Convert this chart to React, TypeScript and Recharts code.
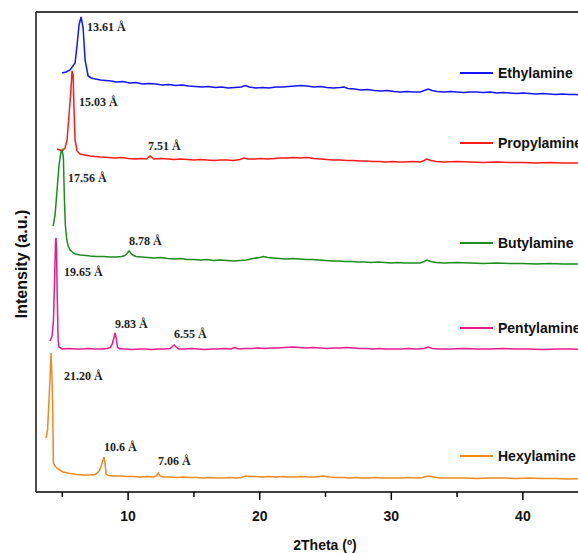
import { LineChart, Line, XAxis, YAxis } from "recharts";

// 2Theta (deg) vs intensity (a.u., traces stacked with offsets)
const ethylamine = [
  [4.98, 419], [5.29, 420], [5.59, 422], [5.97, 429], [6.12, 447], [6.27, 467], [6.43, 475], [6.58, 464],
  [6.73, 432], [6.96, 416], [7.2, 414], [7.5, 413], [7.9, 412], [8.3, 411.5], [8.7, 411], [9.1, 410],
  [9.6, 410.5], [10.1, 409], [10.6, 409.5], [11.1, 408], [11.6, 408.5], [12.1, 408], [12.6, 407], [13.1, 407.5],
  [13.6, 406.5], [14.1, 407], [14.6, 406], [15.1, 405.5], [15.6, 405], [16.1, 405.5], [16.6, 404.5], [17.1, 405],
  [17.6, 404], [18.1, 404.5], [18.6, 405], [18.9, 406.5], [19.2, 405], [19.7, 404], [20.2, 404.5], [20.7, 404],
  [21.2, 405], [21.7, 405], [22.2, 405.5], [22.7, 406], [23.1, 406.5], [23.6, 406], [24.1, 405], [24.6, 405.5],
  [25.1, 404.5], [25.6, 404], [26.1, 404.5], [26.4, 405], [26.7, 403.5], [27.2, 403], [27.7, 402], [28.2, 402.5],
  [28.7, 401.5], [29.2, 401], [29.7, 401.5], [30.2, 400.5], [30.7, 400], [31.2, 400.5], [31.7, 400], [32.2, 400],
  [32.5, 401.5], [32.8, 403], [33.1, 401.5], [33.5, 400.5], [34, 400], [34.5, 400.5], [35, 400], [35.5, 399.5],
  [36, 400], [36.5, 400], [37, 399.5], [37.5, 400], [38, 399], [38.5, 399.5], [39, 399], [39.5, 398.5],
  [40, 399], [40.5, 398.5], [41, 398], [41.5, 398.5], [42, 398], [42.5, 397.5], [43, 398], [43.5, 397.5],
  [44, 397.5], [44.5, 397], [45, 397.5], [46, 397], [47, 397],
];

const propylamine = [
  [4.6, 343], [4.83, 342], [4.98, 341], [5.21, 344], [5.36, 352], [5.51, 377], [5.63, 397], [5.74, 421],
  [5.82, 417], [5.89, 382], [5.97, 352], [6.12, 341], [6.35, 338], [6.7, 337], [7.1, 336], [7.5, 335.5],
  [7.9, 335], [8.5, 334.5], [9, 334], [9.5, 334.5], [10, 333.5], [10.5, 333], [11, 333.5], [11.4, 333],
  [11.67, 336], [11.95, 333], [12.5, 333.5], [13, 333], [13.5, 332.5], [14, 333], [14.5, 332.5], [15, 332],
  [15.5, 332.5], [16, 332], [16.5, 331.5], [17, 332], [17.5, 332], [18, 331.5], [18.5, 332.5], [18.8, 334],
  [19.1, 333], [19.6, 333], [20.1, 333.5], [20.6, 333], [21.1, 333.5], [21.6, 334], [22.1, 334], [22.6, 334.5],
  [23.1, 334], [23.6, 334.5], [24.1, 333.5], [24.6, 333], [25.1, 332.5], [25.6, 332], [26.1, 332], [26.6, 331.5],
  [27.1, 331.5], [27.6, 331], [28.1, 331], [28.6, 330.5], [29.1, 330.5], [29.6, 330], [30.1, 330.5], [30.6, 330],
  [31.1, 330], [31.6, 330.5], [32.2, 330], [32.5, 331.5], [32.7, 333], [33, 331.5], [33.4, 330.5], [34, 330],
  [35, 330.5], [36, 330], [37, 329.5], [38, 330], [39, 329.5], [40, 329.5], [41, 329], [42, 329.5],
  [43, 329], [44, 329], [45, 328.5], [46, 329], [47, 328.5],
];

const butylamine = [
  [4.3, 266], [4.45, 277], [4.6, 302], [4.75, 327], [4.9, 340], [4.98, 342], [5.08, 335], [5.16, 292],
  [5.23, 267], [5.34, 252], [5.45, 246], [5.59, 242], [5.8, 239.5], [5.97, 238], [6.35, 237], [6.8, 236.5],
  [7.1, 236], [7.6, 235.5], [8.1, 235.5], [8.6, 235], [9.1, 235], [9.5, 235.5], [9.75, 236.5], [9.92, 238.5],
  [10.07, 241], [10.2, 239], [10.35, 237], [10.6, 235.5], [11, 235], [11.5, 234.5], [12, 234], [12.5, 234.5],
  [13, 233.5], [13.5, 233], [14, 233.5], [14.5, 232.5], [15, 232.5], [15.5, 232], [16, 232.5], [16.5, 231.5],
  [17, 232], [17.5, 231.5], [18, 231], [18.5, 231.5], [19, 232], [19.5, 233.5], [20, 234.5], [20.3, 235.5],
  [20.6, 234.5], [21, 234], [21.5, 233.5], [22, 233], [22.5, 233.5], [23, 233], [23.5, 232.5], [24, 232.5],
  [24.5, 232], [25, 231.5], [25.5, 231], [26, 231], [26.5, 230.5], [27, 230.5], [27.5, 230], [28, 230],
  [28.5, 229.5], [29, 230], [29.5, 229.5], [30, 229], [30.5, 229.5], [31, 229], [31.5, 229], [32.2, 229],
  [32.5, 230.5], [32.7, 232], [33, 230.5], [33.4, 229.5], [34, 229], [35, 229.5], [36, 229], [37, 228.5],
  [38, 229], [39, 228.5], [40, 228.5], [41, 228], [42, 228.5], [43, 228], [44, 228], [45, 227.5],
  [46, 228], [47, 227.5],
];

const pentylamine = [
  [4.07, 151], [4.22, 156], [4.33, 172], [4.41, 212], [4.49, 252], [4.52, 254], [4.56, 242], [4.62, 192],
  [4.68, 152], [4.75, 145], [4.98, 143], [5.5, 143.5], [6, 143], [6.5, 143], [7, 143.5], [7.5, 143],
  [8, 143], [8.4, 143.5], [8.63, 144.5], [8.8, 148], [8.93, 155], [9.01, 159], [9.09, 154], [9.2, 144.5],
  [9.4, 143], [9.8, 143], [10.3, 142.5], [10.8, 143], [11.3, 143], [11.8, 142.5], [12.3, 143], [12.8, 143],
  [13.2, 143.5], [13.4, 146], [13.5, 147], [13.65, 145], [13.85, 143], [14.3, 143], [14.8, 143.5], [15.3, 143],
  [15.8, 142.5], [16.3, 143], [16.8, 143], [17.3, 143.5], [17.8, 143], [18.1, 144.5], [18.4, 143], [18.9, 143.5],
  [19.4, 143.5], [19.9, 144], [20.4, 143.5], [20.9, 144], [21.4, 144], [21.9, 144.5], [22.5, 145], [23, 144.5],
  [23.5, 144], [24, 144.5], [24.6, 144], [25.1, 143.5], [25.6, 144], [26.1, 144], [26.6, 144.5], [27.1, 144],
  [27.6, 143.5], [28.1, 143.5], [28.6, 143], [29.1, 143.5], [29.6, 143], [30.1, 143], [30.7, 143], [31.3, 143.5],
  [31.9, 143], [32.5, 143.5], [32.8, 145], [33.1, 143.5], [33.7, 143], [34.5, 143], [35.5, 143.5], [36.5, 143],
  [37.5, 143], [38.5, 143.5], [39.5, 143], [40.5, 143], [41.5, 142.5], [42.5, 143], [43.5, 143], [44.5, 142.5],
  [45.5, 143], [47, 143],
];

const hexylamine = [
  [3.76, 54], [3.88, 62], [3.98, 90], [4.07, 115], [4.14, 139], [4.2, 120], [4.27, 85], [4.32, 29],
  [4.45, 26], [4.58, 24], [4.8, 22], [5.06, 20], [5.59, 18.5], [6.1, 17.5], [6.6, 17], [7.1, 17],
  [7.5, 17.5], [7.8, 21], [7.95, 26], [8.08, 31], [8.17, 35], [8.25, 28], [8.33, 18], [8.5, 16.5],
  [8.9, 16], [9.4, 16], [9.9, 15.5], [10.4, 15.5], [10.9, 15], [11.4, 15.5], [11.9, 15], [12.15, 16],
  [12.28, 19], [12.43, 16], [12.7, 15], [13.2, 15], [13.7, 14.5], [14.2, 15], [14.7, 14.5], [15.2, 14.5],
  [15.7, 14], [16.2, 14.5], [16.7, 14], [17.2, 14], [17.7, 14.5], [18.2, 14], [18.6, 14.5], [18.9, 16],
  [19.2, 15.5], [19.7, 15.5], [20.2, 15], [20.7, 15.5], [21.2, 15], [21.7, 15.5], [22.2, 15], [22.7, 15],
  [23.2, 15.5], [23.7, 15], [24.2, 15], [24.8, 16], [25.3, 15], [25.8, 14.5], [26.3, 14.5], [26.8, 14],
  [27.3, 14.5], [27.8, 14], [28.3, 14], [28.8, 14.5], [29.3, 14], [29.8, 14], [30.3, 14], [30.8, 14],
  [31.3, 14.5], [31.9, 14], [32.4, 14.5], [32.8, 16], [33.2, 15], [33.7, 14], [34.5, 14], [35.5, 14],
  [36.5, 13.5], [37.5, 14], [38.5, 14], [39.5, 13.5], [40.5, 14], [41.5, 13.5], [42.5, 13.5], [43.5, 13],
  [44.5, 13.5], [45.5, 13], [47, 13],
];

const seriesNames = ["Ethylamine", "Propylamine", "Butylamine", "Pentylamine", "Hexylamine"];
const seriesData = [ethylamine, propylamine, butylamine, pentylamine, hexylamine];
const xTicks = [5, 10, 15, 20, 25, 30, 35, 40, 45];

const peakLabels = ["13.61 Å", "15.03 Å", "7.51 Å", "17.56 Å", "8.78 Å", "19.65 Å", "9.83 Å", "6.55 Å", "21.20 Å", "10.6 Å", "7.06 Å"];

// layout / styles
const colors = ["#1414ff", "#ff1a1a", "#1e8c1e", "#ea1a8c", "#ef8a1e"];
const legendY = [73, 143, 243, 328, 456];
const peakLabelPos = [
  [87, 31], [79, 106], [148, 150], [68, 182], [129, 245], [64, 276],
  [115, 328], [174, 338], [64, 380], [104, 451], [158, 465],
];
const sans = "'Liberation Sans', Arial, sans-serif";
const serif = "'Liberation Serif', 'Times New Roman', serif";

const toPoints = (rows: number[][]) => rows.map(([x, y]) => ({ x, y }));

const AxisTick = (props: any) => {
  const { x, y, payload } = props;
  const major = payload.value % 10 === 0;
  return (
    <g>
      <line x1={x} x2={x} y1={y} y2={y + (major ? 8 : 5)} stroke="#000" strokeWidth={1.5} />
      {major && (
        <text x={x} y={y + 29} textAnchor="middle" fontFamily={sans} fontWeight="bold" fontSize={14} fill="#111">
          {payload.value}
        </text>
      )}
    </g>
  );
};

export default function App() {
  return (
    <div style={{ position: "absolute", left: 0, top: 0, width: 578, height: 553, overflow: "hidden", background: "#fff" }}>
      <LineChart width={620} height={553} margin={{ top: 10, right: 5, bottom: 31, left: 34 }}>
        <XAxis
          dataKey="x"
          type="number"
          domain={[3, 47]}
          allowDataOverflow
          ticks={xTicks}
          height={30}
          tickSize={0}
          tickMargin={0}
          tickLine={false}
          tick={<AxisTick />}
          axisLine={{ stroke: "#000", strokeWidth: 1.6 }}
        />
        <XAxis
          xAxisId="top"
          orientation="top"
          dataKey="x"
          type="number"
          domain={[3, 47]}
          height={2}
          tick={false}
          tickLine={false}
          axisLine={{ stroke: "#000", strokeWidth: 1.4 }}
        />
        <YAxis
          type="number"
          domain={[0, 480]}
          allowDataOverflow
          width={2}
          tick={false}
          tickLine={false}
          axisLine={{ stroke: "#000", strokeWidth: 1.4 }}
        />
        {seriesData.map((rows, i) => (
          <Line
            key={seriesNames[i]}
            data={toPoints(rows)}
            dataKey="y"
            type="linear"
            stroke={colors[i]}
            strokeWidth={1.5}
            dot={false}
            isAnimationActive={false}
          />
        ))}
      </LineChart>
      <svg width={578} height={553} style={{ position: "absolute", left: 0, top: 0, pointerEvents: "none" }}>
        {seriesNames.map((name, i) => (
          <g key={name}>
            <line x1={460} x2={493} y1={legendY[i]} y2={legendY[i]} stroke={colors[i]} strokeWidth={2} />
            <text x={498} y={legendY[i] + 5} fontFamily={sans} fontWeight="bold" fontSize={14} fill="#111">
              {name}
            </text>
          </g>
        ))}
        {peakLabels.map((t, i) => (
          <text key={t} x={peakLabelPos[i][0]} y={peakLabelPos[i][1]} fontFamily={serif} fontWeight="bold" fontSize={12} fill="#222">
            {t}
          </text>
        ))}
        <text x={325} y={550} textAnchor="middle" fontFamily={sans} fontWeight="bold" fontSize={14} fill="#111">
          2Theta (º)
        </text>
        <text
          transform="translate(27,264) rotate(-90)"
          textAnchor="middle"
          fontFamily={sans}
          fontWeight="bold"
          fontSize={16}
          fill="#111"
        >
          Intensity (a.u.)
        </text>
      </svg>
    </div>
  );
}
